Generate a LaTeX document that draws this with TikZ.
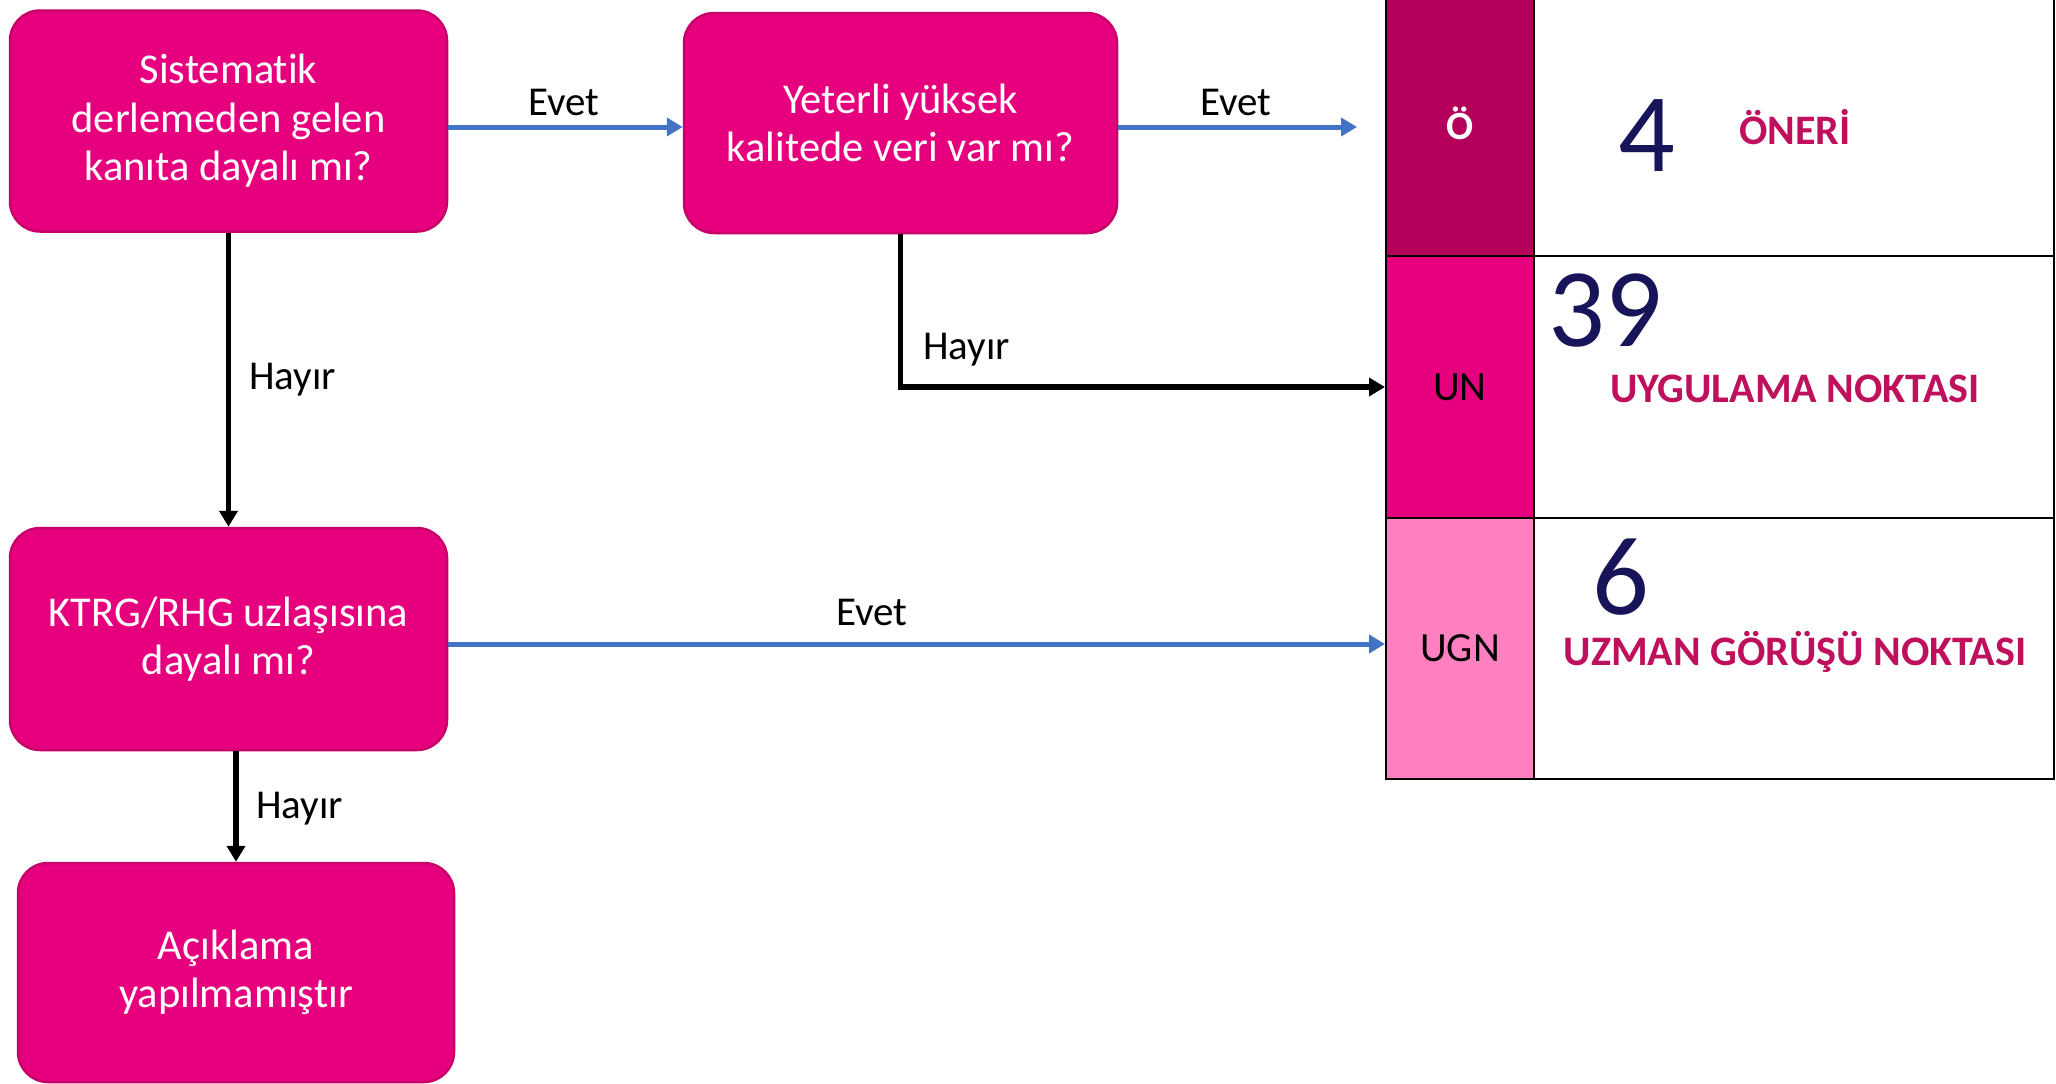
\documentclass[tikz,border=0pt]{standalone}
\usepackage{fontspec}
\setmainfont{Carlito}[Ligatures=NoCommon]
\usetikzlibrary{arrows.meta}
\definecolor{mag}{RGB}{230,0,126}
\definecolor{magborder}{RGB}{200,0,105}
\definecolor{darkmag}{RGB}{180,0,90}
\definecolor{pinkc}{RGB}{255,128,192}
\definecolor{arrowblue}{RGB}{68,114,196}
\definecolor{navy}{RGB}{24,20,90}
\definecolor{labelmag}{RGB}{190,16,92}
\tikzset{
  box/.style={draw=magborder, line width=2.5pt, fill=mag, rounded corners=30pt, text=white, align=center,
    font=\fontsize{42.5}{48.5}\selectfont, inner sep=0pt},
  bluearrow/.style={draw=arrowblue, line width=5pt, -{Triangle[length=16pt,width=18pt]}},
  blackarrow/.style={draw=black, line width=5.5pt, -{Triangle[length=16pt,width=18pt]}},
  lbl/.style={font=\fontsize{41}{46}\selectfont, text=black, inner sep=0pt},
  cellL/.style={draw=black, line width=2pt, minimum width=148pt, inner sep=0pt, font=\fontsize{41.5}{46}\selectfont},
  cellR/.style={draw=black, line width=2pt, minimum width=520pt, inner sep=0pt, fill=white},
  bignum/.style={font=\fontsize{112}{120}\selectfont, text=navy, inner sep=0pt},
  catname/.style={font=\fontsize{42}{48}\selectfont\bfseries, text=labelmag, inner sep=0pt}
}
\begin{document}
\begin{tikzpicture}[x=1pt,y=-1pt]
\useasboundingbox (0,0) rectangle (2056,1084);
\fill[white] (0,0) rectangle (2056,1084);

% table
\node[cellR, minimum height=266pt] (r1) at (1794,123) {};
\node[cellR, minimum height=262pt] (r2) at (1794,387) {};
\node[cellR, minimum height=261pt] (r3) at (1794,648.5) {};
\node[cellL, fill=darkmag, minimum height=266pt, text=white, font=\fontsize{40}{46}\selectfont\bfseries] (o) at (1460,123) {Ö};
\node[cellL, fill=mag, minimum height=262pt] (un) at (1460,387) {UN};
\node[cellL, fill=pinkc, minimum height=261pt] (ugn) at (1460,648.5) {UGN};

\node[bignum] (n4) at (1647,136) {4};
\node[bignum] (n39) at (1605,311) {39};
\node[bignum] (n6) at (1621,577) {6};
\node[catname] (c1) at (1795,127) {ÖNERİ};
\node[catname] (c2) at (1795,389) {UYGULAMA NOKTASI};
\node[catname] (c3) at (1795,652) {UZMAN GÖRÜŞÜ NOKTASI};

% boxes
\node[box, minimum width=437pt, minimum height=221pt] (b1) at (228.5,121) {Sistematik\\derlemeden gelen\\kanıta dayalı mı?};
\node[box, minimum width=433pt, minimum height=220pt] (b2) at (900.5,123) {Yeterli yüksek\\kalitede veri var mı?};
\node[box, minimum width=437pt, minimum height=222pt] (b3) at (228.5,639) {KTRG/RHG uzlaşısına\\dayalı mı?};
\node[box, minimum width=436pt, minimum height=219pt] (b4) at (236,972.5) {Açıklama\\yapılmamıştır};

\coordinate (e1) at (228.5,127);
\coordinate (e2) at (1357,127);
\coordinate (e3) at (228.5,644);

% connectors
\draw[bluearrow] (b1.east |- e1) -- (b2.west |- e1);
\draw[bluearrow] (b2.east |- e2) -- (e2);
\draw[blackarrow] (b2.south) |- (un.west);
\draw[blackarrow] (b1.south) -- (b3.north);
\draw[bluearrow] (b3.east |- e3) -- (ugn.west |- e3);
\draw[blackarrow] (b4.north |- b3.south) -- (b4.north);

% labels
\node[lbl] (l1) at (564,102) {Evet};
\node[lbl] (l2) at (1236,102) {Evet};
\node[lbl] (l3) at (872,612) {Evet};
\node[lbl, anchor=west] (l4) at (249,380) {Hayır};
\node[lbl, anchor=west] (l5) at (923,350) {Hayır};
\node[lbl, anchor=west] (l6) at (256,809) {Hayır};
\end{tikzpicture}
\end{document}
